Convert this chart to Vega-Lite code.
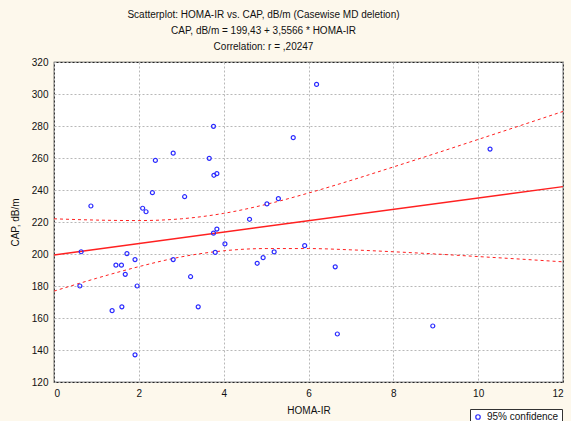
{
  "$schema": "https://vega.github.io/schema/vega-lite/v6.json",
  "autosize": {"type": "none"},
  "padding": {"left": 54, "top": 62, "right": 8, "bottom": 39},
  "width": 509,
  "height": 320,
  "background": "#FDF8EC",
  "title": {
    "text": ["Scatterplot: HOMA-IR vs. CAP, dB/m (Casewise MD deletion)", "CAP, dB/m = 199,43 + 3,5566 * HOMA-IR", "Correlation: r = ,20247"],
    "font": "Liberation Sans",
    "fontSize": 10,
    "fontWeight": "normal",
    "color": "#111111",
    "lineHeight": 16,
    "dx": -45,
    "dy": 16,
    "offset": 11,
    "baseline": "bottom"
  },
  "datasets": {
    "pts": [
      {"homa": 0.61, "cap": 180, "series": "95% confidence"},
      {"homa": 0.64, "cap": 201.4, "series": "95% confidence"},
      {"homa": 0.87, "cap": 230, "series": "95% confidence"},
      {"homa": 1.37, "cap": 164.6, "series": "95% confidence"},
      {"homa": 1.46, "cap": 193, "series": "95% confidence"},
      {"homa": 1.59, "cap": 193, "series": "95% confidence"},
      {"homa": 1.6, "cap": 167, "series": "95% confidence"},
      {"homa": 1.68, "cap": 187.3, "series": "95% confidence"},
      {"homa": 1.72, "cap": 200.2, "series": "95% confidence"},
      {"homa": 1.91, "cap": 196.5, "series": "95% confidence"},
      {"homa": 1.91, "cap": 137, "series": "95% confidence"},
      {"homa": 1.96, "cap": 180, "series": "95% confidence"},
      {"homa": 2.09, "cap": 228.6, "series": "95% confidence"},
      {"homa": 2.17, "cap": 226.4, "series": "95% confidence"},
      {"homa": 2.32, "cap": 238.3, "series": "95% confidence"},
      {"homa": 2.39, "cap": 258.5, "series": "95% confidence"},
      {"homa": 2.81, "cap": 263, "series": "95% confidence"},
      {"homa": 2.81, "cap": 196.5, "series": "95% confidence"},
      {"homa": 3.08, "cap": 235.8, "series": "95% confidence"},
      {"homa": 3.22, "cap": 185.8, "series": "95% confidence"},
      {"homa": 3.4, "cap": 167, "series": "95% confidence"},
      {"homa": 3.66, "cap": 259.8, "series": "95% confidence"},
      {"homa": 3.76, "cap": 279.8, "series": "95% confidence"},
      {"homa": 3.77, "cap": 249.2, "series": "95% confidence"},
      {"homa": 3.84, "cap": 250.2, "series": "95% confidence"},
      {"homa": 3.76, "cap": 213, "series": "95% confidence"},
      {"homa": 3.84, "cap": 215.6, "series": "95% confidence"},
      {"homa": 3.8, "cap": 201, "series": "95% confidence"},
      {"homa": 4.03, "cap": 206.3, "series": "95% confidence"},
      {"homa": 4.61, "cap": 221.7, "series": "95% confidence"},
      {"homa": 4.79, "cap": 194.2, "series": "95% confidence"},
      {"homa": 4.93, "cap": 197.7, "series": "95% confidence"},
      {"homa": 5.02, "cap": 231.3, "series": "95% confidence"},
      {"homa": 5.19, "cap": 201.3, "series": "95% confidence"},
      {"homa": 5.29, "cap": 234.6, "series": "95% confidence"},
      {"homa": 5.64, "cap": 272.7, "series": "95% confidence"},
      {"homa": 5.91, "cap": 205.2, "series": "95% confidence"},
      {"homa": 6.19, "cap": 306, "series": "95% confidence"},
      {"homa": 6.63, "cap": 192, "series": "95% confidence"},
      {"homa": 6.68, "cap": 150, "series": "95% confidence"},
      {"homa": 8.93, "cap": 155, "series": "95% confidence"},
      {"homa": 10.28, "cap": 265.6, "series": "95% confidence"}
    ],
    "fit": [
      {"homa": 0, "cap": 199.43},
      {"homa": 12, "cap": 242.11}
    ],
    "band": [
      {"homa": 0, "cap": 222.0, "bound": "upper"},
      {"homa": 1, "cap": 221.2, "bound": "upper"},
      {"homa": 2, "cap": 220.9, "bound": "upper"},
      {"homa": 3, "cap": 222.0, "bound": "upper"},
      {"homa": 4, "cap": 225.4, "bound": "upper"},
      {"homa": 5, "cap": 231.0, "bound": "upper"},
      {"homa": 6, "cap": 238.1, "bound": "upper"},
      {"homa": 7, "cap": 246.0, "bound": "upper"},
      {"homa": 8, "cap": 254.4, "bound": "upper"},
      {"homa": 9, "cap": 262.9, "bound": "upper"},
      {"homa": 10, "cap": 271.6, "bound": "upper"},
      {"homa": 11, "cap": 280.3, "bound": "upper"},
      {"homa": 12, "cap": 289.1, "bound": "upper"},
      {"homa": 0, "cap": 176.8, "bound": "lower"},
      {"homa": 1, "cap": 184.8, "bound": "lower"},
      {"homa": 2, "cap": 192.1, "bound": "lower"},
      {"homa": 3, "cap": 198.2, "bound": "lower"},
      {"homa": 4, "cap": 202.0, "bound": "lower"},
      {"homa": 5, "cap": 203.4, "bound": "lower"},
      {"homa": 6, "cap": 203.4, "bound": "lower"},
      {"homa": 7, "cap": 202.6, "bound": "lower"},
      {"homa": 8, "cap": 201.4, "bound": "lower"},
      {"homa": 9, "cap": 200.0, "bound": "lower"},
      {"homa": 10, "cap": 198.4, "bound": "lower"},
      {"homa": 11, "cap": 196.8, "bound": "lower"},
      {"homa": 12, "cap": 195.1, "bound": "lower"}
    ]
  },
  "config": {
    "view": {"fill": "white", "stroke": "#222222", "strokeWidth": 1.2},
    "axis": {
      "labelFont": "Liberation Sans",
      "titleFont": "Liberation Sans",
      "labelFontSize": 10,
      "titleFontSize": 10,
      "titleFontWeight": "normal",
      "labelColor": "#111111",
      "titleColor": "#111111",
      "domain": false,
      "gridColor": "#b8b8b8",
      "gridDash": [2, 2],
      "gridWidth": 1,
      "ticks": false,
      "labelPadding": 6
    }
  },
  "encoding": {
    "x": {
      "field": "homa", "type": "quantitative",
      "scale": {"domain": [0, 12], "nice": false, "zero": false},
      "axis": {"title": "HOMA-IR", "values": [0, 2, 4, 6, 8, 10, 12], "titlePadding": 7, "labelPadding": 6}
    },
    "y": {
      "field": "cap", "type": "quantitative",
      "scale": {"domain": [120, 320], "nice": false, "zero": false},
      "axis": {"title": "CAP, dB/m", "values": [120, 140, 160, 180, 200, 220, 240, 260, 280, 300, 320], "titlePadding": 11, "labelPadding": 6}
    }
  },
  "layer": [
    {
      "data": {"name": "band"},
      "mark": {"type": "line", "color": "#ff2020", "strokeWidth": 1, "strokeDash": [3, 3], "interpolate": "monotone"},
      "encoding": {"detail": {"field": "bound"}}
    },
    {
      "data": {"name": "fit"},
      "mark": {"type": "line", "color": "#ff2020", "strokeWidth": 1.5},
      "encoding": {}
    },
    {
      "data": {"name": "pts"},
      "mark": {"type": "point", "filled": false, "strokeWidth": 1.2, "size": 16, "opacity": 1},
      "encoding": {
        "color": {
          "field": "series", "type": "nominal",
          "scale": {"domain": ["95% confidence"], "range": ["#2a2aff"]},
          "legend": {
            "title": null,
            "orient": "none",
            "legendX": 416,
            "legendY": 347,
            "direction": "vertical",
            "labelFont": "Liberation Sans",
            "labelFontSize": 10,
            "labelColor": "#111111",
            "symbolType": "circle",
            "symbolSize": 20,
            "symbolStrokeWidth": 1.2,
            "symbolFillColor": "transparent",
            "fillColor": "white",
            "strokeColor": "#333333",
            "padding": 3
          }
        }
      }
    }
  ]
}
